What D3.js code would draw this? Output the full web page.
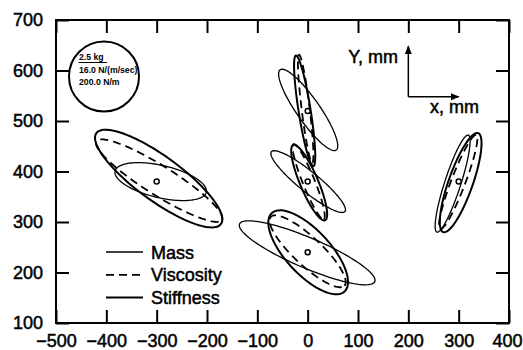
<!DOCTYPE html>
<html>
<head>
<meta charset="utf-8">
<script src="https://cdn.jsdelivr.net/npm/d3@7"></script>
<style>
  body { margin: 0; background: #fff; }
  text { font-family: "Liberation Sans", Arial, sans-serif; fill: #000; }
</style>
</head>
<body>
<svg id="chart" width="523" height="350"></svg>
<script>
// axis ticks
const xTicks = [-500, -400, -300, -200, -100, 0, 100, 200, 300, 400];
const yTicks = [100, 200, 300, 400, 500, 600, 700];

// target centres (mm)
const centers = [[-300, 380], [0, 520], [0, 380], [0, 240], [300, 380]];

// ellipses: [cx, cy, semi-major, semi-minor, angle deg]  (mm)
const massEllipses = [
  [-292, 380, 93, 32, -13],
  [1, 522, 97, 23, -55],
  [1, 380, 94, 20, -39],
  [-1, 239, 146, 30, -23],
  [288, 376, 101, 16, 72]
];
const viscosityEllipses = [
  [-295, 382, 147, 29, -32],
  [-4, 524, 108, 8, -83],
  [2, 380, 80, 12, -68],
  [0, 242, 100, 28, -43],
  [299, 379, 100, 14, 69]
];
const stiffnessEllipses = [
  [-296, 386, 153, 44, -36],
  [-6, 520, 111, 12, -81],
  [3, 378, 81, 18, -67],
  [1, 240, 106, 44, -47],
  [304, 378, 104, 24, 70.5]
];

const legendNames = ["Mass", "Viscosity", "Stiffness"];
const insetLines = ["2.5 kg", "16.0 N/(m/sec)", "200.0 N/m"];

var svg = d3.select("#chart");
const margin = {top: 20, right: 14, bottom: 27, left: 56};
var width = 523 - margin.left - margin.right;
var height = 350 - margin.top - margin.bottom;

var g = svg.append("g").attr("transform", "translate(" + margin.left + "," + margin.top + ")");

var x = d3.scaleLinear().domain([-500, 400]).range([0, width]);
var y = d3.scaleLinear().domain([100, 700]).range([height, 0]);

// axes, ticks pointing inwards on all four sides
const tk = 13;
var xAxisG = g.append("g")
  .attr("transform", "translate(0," + height + ")")
  .call(d3.axisBottom(x).tickValues(xTicks).tickSize(-tk).tickPadding(11))
  .call(a => a.select(".domain").remove());
g.append("g")
  .call(d3.axisTop(x).tickValues(xTicks).tickSize(-tk).tickFormat(""))
  .call(a => a.select(".domain").remove());
g.append("g")
  .call(d3.axisLeft(y).tickValues(yTicks).tickSize(-tk).tickPadding(13))
  .call(a => a.select(".domain").remove());
g.append("g")
  .attr("transform", "translate(" + width + ",0)")
  .call(d3.axisRight(y).tickValues(yTicks).tickSize(-tk).tickFormat(""))
  .call(a => a.select(".domain").remove());

g.selectAll(".tick line").attr("stroke", "#000").attr("stroke-width", 2);
g.selectAll(".tick text")
  .attr("font-size", 18)
  .attr("fill", "#000")
  .attr("stroke", "#000")
  .attr("stroke-width", 0.5)
  .style("font-family", "'Liberation Sans', Arial, sans-serif");
// keep the last label inside the picture
xAxisG.selectAll(".tick text").filter(d => d === 400).attr("dx", -2);

g.append("rect")
  .attr("width", width).attr("height", height)
  .attr("fill", "none").attr("stroke", "#000").attr("stroke-width", 2);

// ellipse outline in data space
function ellipsePts(e) {
  const [cx, cy, a, b, ang] = e;
  const th = ang * Math.PI / 180;
  return d3.range(0, 121).map(i => {
    const t = i / 120 * 2 * Math.PI;
    return [cx + a * Math.cos(t) * Math.cos(th) - b * Math.sin(t) * Math.sin(th),
            cy + a * Math.cos(t) * Math.sin(th) + b * Math.sin(t) * Math.cos(th)];
  });
}
var line = d3.line().x(d => x(d[0])).y(d => y(d[1])).curve(d3.curveLinearClosed);

const styles = [
  {data: massEllipses, w: 1.3, dash: null},
  {data: viscosityEllipses, w: 1.8, dash: "8,5"},
  {data: stiffnessEllipses, w: 2, dash: null}
];
styles.forEach(s => {
  g.append("g").selectAll("path")
    .data(s.data)
    .enter().append("path")
    .attr("d", d => line(ellipsePts(d)))
    .attr("fill", "none")
    .attr("stroke", "#000")
    .attr("stroke-width", s.w)
    .attr("stroke-dasharray", s.dash);
});

g.selectAll(".ctr")
  .data(centers)
  .enter().append("circle")
  .attr("cx", d => x(d[0])).attr("cy", d => y(d[1]))
  .attr("r", 2.5)
  .attr("fill", "#fff").attr("stroke", "#000").attr("stroke-width", 1.5);

// legend
var leg = svg.append("g");
legendNames.forEach((n, i) => {
  const ly = 252 + i * 22.8;
  leg.append("line")
    .attr("x1", 106).attr("x2", 143).attr("y1", ly).attr("y2", ly)
    .attr("stroke", "#000")
    .attr("stroke-width", styles[i].w)
    .attr("stroke-dasharray", styles[i].dash);
  leg.append("text")
    .attr("x", 151).attr("y", ly + 6.5)
    .attr("font-size", 18)
    .attr("stroke", "#000").attr("stroke-width", 0.5)
    .text(n);
});

// inset with model parameters
var inset = svg.append("g");
inset.append("circle")
  .attr("cx", 104).attr("cy", 76.5).attr("r", 35)
  .attr("fill", "none").attr("stroke", "#000").attr("stroke-width", 2);
insetLines.forEach((t, i) => {
  inset.append("text")
    .attr("x", 79).attr("y", 60 + i * 12.5)
    .attr("font-size", 8.7).attr("font-weight", "bold")
    .text(t);
});
inset.append("line")
  .attr("x1", 78.5).attr("x2", 107).attr("y1", 62.5).attr("y2", 62.5)
  .attr("stroke", "#000").attr("stroke-width", 1);

// coordinate arrows
svg.append("defs").append("marker")
  .attr("id", "ah").attr("viewBox", "0 0 10 10")
  .attr("refX", 9).attr("refY", 5)
  .attr("markerWidth", 9).attr("markerHeight", 9)
  .attr("markerUnits", "userSpaceOnUse")
  .attr("orient", "auto")
  .append("path").attr("d", "M0,1L10,5L0,9Z").attr("fill", "#000");

const arrowOrigin = [200, 548];
g.append("line")
  .attr("x1", x(arrowOrigin[0])).attr("y1", y(arrowOrigin[1]))
  .attr("x2", x(arrowOrigin[0])).attr("y2", y(648))
  .attr("stroke", "#000").attr("stroke-width", 1.5).attr("marker-end", "url(#ah)");
g.append("line")
  .attr("x1", x(arrowOrigin[0])).attr("y1", y(arrowOrigin[1]))
  .attr("x2", x(300)).attr("y2", y(arrowOrigin[1]))
  .attr("stroke", "#000").attr("stroke-width", 1.5).attr("marker-end", "url(#ah)");

svg.append("text")
  .attr("x", 398).attr("y", 63).attr("text-anchor", "end")
  .attr("font-size", 18).attr("stroke", "#000").attr("stroke-width", 0.5)
  .text("Y, mm");
svg.append("text")
  .attr("x", 430).attr("y", 113)
  .attr("font-size", 18).attr("stroke", "#000").attr("stroke-width", 0.5)
  .text("x, mm");
</script>
</body>
</html>
